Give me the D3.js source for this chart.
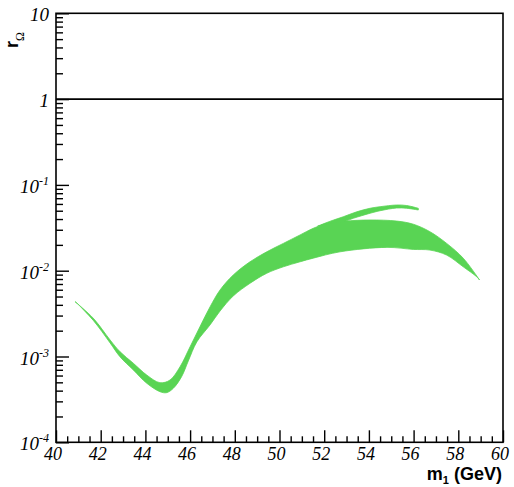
<!DOCTYPE html>
<html>
<head>
<meta charset="utf-8">
<script src="https://cdn.jsdelivr.net/npm/d3@7"></script>
<style>
  html, body { margin: 0; padding: 0; background: #fff; }
  svg { display: block; }
  .tick-label { font-family: "Liberation Serif", "Times New Roman", Times, "DejaVu Serif", serif; font-style: italic; }
  .axis-title { font-family: "Liberation Sans", Arial, Helvetica, sans-serif; font-weight: bold; }
  .greek { font-family: "Liberation Serif", "Times New Roman", serif; font-weight: normal; }
</style>
</head>
<body>
<svg id="chart" width="514" height="487"></svg>
<script>
// Allowed band of r_Omega versus m_1: upper and lower edges of the main band
const upperMass = [40.85, 41.67, 42.42, 42.86, 43.46, 44.06, 44.65, 45.10, 45.55, 46.00,
                   46.44, 46.89, 47.34, 47.93, 48.68, 49.43, 50.17, 50.92, 51.51, 52.26,
                   52.93, 54.05, 55.24, 55.99, 56.73, 57.48, 58.22, 58.90];
const upperR    = [4.36e-3, 2.79e-3, 1.56e-3, 1.14e-3, 8.34e-4, 6.08e-4, 4.95e-4, 5.32e-4, 7.60e-4, 1.30e-3,
                   2.22e-3, 3.78e-3, 5.96e-3, 8.91e-3, 1.27e-2, 1.66e-2, 2.08e-2, 2.61e-2, 3.12e-2, 3.65e-2,
                   3.79e-2, 3.90e-2, 3.79e-2, 3.48e-2, 2.85e-2, 2.08e-2, 1.40e-2, 8.15e-3];
const lowerMass = [40.93, 41.67, 42.42, 42.86, 43.46, 44.06, 44.65, 44.95, 45.25, 45.62,
                   45.92, 46.30, 46.89, 47.34, 47.93, 48.68, 49.43, 50.17, 50.92, 51.51,
                   52.71, 54.80, 55.99, 56.73, 57.48, 58.22, 58.82, 58.95];
const lowerR    = [4.21e-3, 2.63e-3, 1.44e-3, 9.95e-4, 6.97e-4, 4.88e-4, 3.89e-4, 3.79e-4, 4.26e-4, 5.82e-4,
                   8.87e-4, 1.48e-3, 2.33e-3, 3.39e-3, 5.07e-3, 7.13e-3, 9.33e-3, 1.11e-2, 1.27e-2, 1.40e-2,
                   1.66e-2, 1.87e-2, 1.77e-2, 1.74e-2, 1.52e-2, 1.11e-2, 8.51e-3, 7.80e-3];

// Thin upper branch splitting off the main band
const branchUpperMass = [51.70, 52.30, 52.85, 53.45, 54.05, 54.50, 55.24, 55.69, 56.21];
const branchUpperR    = [3.30e-2, 3.80e-2, 4.25e-2, 4.85e-2, 5.34e-2, 5.57e-2, 5.83e-2, 5.75e-2, 5.34e-2];
const branchLowerMass = [52.20, 52.85, 53.30, 54.05, 54.50, 55.24, 55.69, 56.21];
const branchLowerR    = [3.55e-2, 3.72e-2, 4.08e-2, 4.67e-2, 5.00e-2, 5.38e-2, 5.34e-2, 5.10e-2];

// Reference line r_Omega = 1
const referenceR = 1;

// Axis ticks
const xMajorTicks = [40, 42, 44, 46, 48, 50, 52, 54, 56, 58, 60];
const yExponents  = [-4, -3, -2, -1, 0, 1];

const svg = d3.select("#chart");
const plot = { left: 56, right: 503, top: 13.3, bottom: 442.3 };

const x = d3.scaleLinear().domain([40, 60]).range([plot.left, plot.right]);
const y = d3.scaleLog().domain([1e-4, 10]).range([plot.bottom, plot.top]);

const bandColor = "#59d454";

function edgePoints(ms, rs) { return ms.map((m, i) => [m, rs[i]]); }

const edge = d3.line()
  .x(d => x(d[0]))
  .y(d => y(d[1]))
  .curve(d3.curveCatmullRom.alpha(0.5));

// closed outline: one edge left-to-right, the other back right-to-left
function bandPath(upper, lower) {
  const a = edge(upper);
  const b = edge(lower.slice().reverse());
  return a + "L" + b.slice(1) + "Z";
}

svg.append("path")
  .attr("d", bandPath(edgePoints(upperMass, upperR), edgePoints(lowerMass, lowerR)))
  .attr("fill", bandColor).attr("stroke", bandColor).attr("stroke-width", 0.8);
svg.append("path")
  .attr("d", bandPath(edgePoints(branchUpperMass, branchUpperR), edgePoints(branchLowerMass, branchLowerR)))
  .attr("fill", bandColor).attr("stroke", bandColor).attr("stroke-width", 0.8);

// horizontal line at r = 1
svg.append("line")
  .attr("x1", plot.left).attr("x2", plot.right)
  .attr("y1", y(referenceR)).attr("y2", y(referenceR))
  .attr("stroke", "#000").attr("stroke-width", 1.6);

// bottom axis: major and minor ticks pointing inward
const xMinorTicks = d3.range(40, 60.01, 0.5).filter(v => !xMajorTicks.includes(v));
function tickStyle(g) {
  g.select(".domain").remove();
  g.selectAll("line").attr("stroke", "#000").attr("stroke-width", 1.4);
}
svg.append("g").attr("transform", `translate(0,${plot.bottom})`)
  .call(d3.axisBottom(x).tickValues(xMajorTicks).tickSize(-12).tickFormat(""))
  .call(tickStyle);
svg.append("g").attr("transform", `translate(0,${plot.bottom})`)
  .call(d3.axisBottom(x).tickValues(xMinorTicks).tickSize(-6).tickFormat(""))
  .call(tickStyle);

// left axis: decades and minor ticks
const yMajor = yExponents.map(e => Math.pow(10, e));
const yMinor = [];
yExponents.slice(0, -1).forEach(e => {
  for (let k = 2; k <= 9; k++) yMinor.push(k * Math.pow(10, e));
});
svg.append("g").attr("transform", `translate(${plot.left},0)`)
  .call(d3.axisLeft(y).tickValues(yMajor).tickSize(-13).tickFormat(""))
  .call(tickStyle);
svg.append("g").attr("transform", `translate(${plot.left},0)`)
  .call(d3.axisLeft(y).tickValues(yMinor).tickSize(-7).tickFormat(""))
  .call(tickStyle);

// frame
svg.append("rect")
  .attr("x", plot.left).attr("y", plot.top)
  .attr("width", plot.right - plot.left).attr("height", plot.bottom - plot.top)
  .attr("fill", "none").attr("stroke", "#000").attr("stroke-width", 1.6);

// x tick labels
svg.append("g").selectAll("text").data(xMajorTicks).join("text")
  .attr("class", "tick-label")
  .attr("x", d => x(d) - 3)
  .attr("y", 459.5)
  .attr("text-anchor", "middle")
  .attr("font-size", 18)
  .text(d => d);

// y tick labels with powers of ten
const yLabels = svg.append("g").selectAll("text").data(yExponents).join("text")
  .attr("class", "tick-label")
  .attr("x", 49)
  .attr("y", d => y(Math.pow(10, d)) + 8)
  .attr("text-anchor", "end")
  .attr("font-size", 19);
yLabels.each(function(e) {
  const t = d3.select(this);
  if (e === 0) { t.text("1"); return; }
  if (e === 1) { t.text("10"); return; }
  t.append("tspan").text("10");
  t.append("tspan").attr("font-size", 12).attr("dy", -8).text(String(e));
});

// axis titles
const xt = svg.append("text")
  .attr("class", "axis-title")
  .attr("x", 502).attr("y", 479.5)
  .attr("text-anchor", "end")
  .attr("font-size", 18);
xt.append("tspan").text("m");
xt.append("tspan").attr("font-size", 11).attr("dy", 4).text("1");
xt.append("tspan").attr("dy", -4).text(" (GeV)");

const yt = svg.append("text")
  .attr("class", "axis-title")
  .attr("transform", "translate(18,32) rotate(-90)")
  .attr("text-anchor", "end")
  .attr("font-size", 18);
yt.append("tspan").text("r");
yt.append("tspan").attr("class", "greek")
  .attr("font-size", 12).attr("dy", 6).text("Ω");
</script>
</body>
</html>
